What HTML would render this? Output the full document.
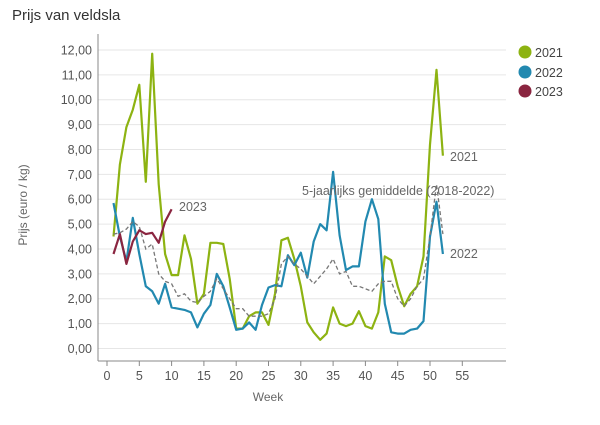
<!DOCTYPE html>
<html><head><meta charset="utf-8"><style>
body{margin:0;background:#fff;}
svg{font-family:"Liberation Sans",sans-serif;}
</style></head><body>
<svg id="s" width="600" height="420" xmlns="http://www.w3.org/2000/svg">
<text x="12" y="20" font-size="15" fill="#333">Prijs van veldsla</text>
<g id="grid"></g>
<line x1="98" y1="34" x2="98" y2="361" stroke="#888"/>
<line x1="98" y1="361" x2="506" y2="361" stroke="#888"/>
<text transform="translate(27,205) rotate(-90)" font-size="12" fill="#666" text-anchor="middle">Prijs (euro / kg)</text>
<text x="268" y="401" font-size="12" fill="#666" text-anchor="middle">Week</text>
<g id="lines"></g>
<text x="179" y="211" font-size="12.5" fill="#666">2023</text>
<text x="450" y="161" font-size="12.5" fill="#666">2021</text>
<text x="450" y="258" font-size="12.5" fill="#666">2022</text>
<text x="302" y="195" font-size="12.5" fill="#666">5-jaarlijks gemiddelde (2018-2022)</text>
<circle cx="525" cy="52" r="6.5" fill="#8db312"/><text x="535" y="57" font-size="12.5" fill="#444">2021</text>
<circle cx="525" cy="72" r="6.5" fill="#2289b0"/><text x="535" y="77" font-size="12.5" fill="#444">2022</text>
<circle cx="525" cy="91" r="6.5" fill="#8a2540"/><text x="535" y="96" font-size="12.5" fill="#444">2023</text>
</svg>
<script>
var X=function(w){return 107+w*6.46},Y=function(v){return 348.5-v*24.88};
var g='',ns='';
for(var i=0;i<=12;i++){var y=Y(i);g+='<line x1="98" x2="506" y1="'+y+'" y2="'+y+'" stroke="#e6e6e6"/>';
g+='<text x="92" y="'+(y+4.5)+'" font-size="12.5" fill="#555" text-anchor="end">'+i+'.00'.replace('.',',')+'</text>';}
for(var w=0;w<=55;w+=5){var x=X(w);g+='<line x1="'+x+'" x2="'+x+'" y1="361" y2="366" stroke="#888"/><text x="'+x+'" y="380" font-size="12.5" fill="#555" text-anchor="middle">'+w+'</text>';}
document.getElementById('grid').innerHTML=g;
var avg=[4.6,4.65,4.8,5.1,4.9,4.0,4.2,3.0,2.7,2.6,2.1,2.2,1.9,1.85,2.1,2.3,2.8,2.4,2.0,1.6,1.6,1.3,1.3,1.3,1.4,2.0,3.4,3.7,3.4,3.2,2.9,2.6,2.9,3.2,3.6,3.0,3.1,2.5,2.5,2.4,2.3,2.6,2.7,2.7,2.0,1.7,2.0,2.5,2.8,4.5,6.6,4.6];
var a21=[4.5,7.4,8.9,9.6,10.6,6.7,11.85,6.6,3.8,2.95,2.95,4.55,3.6,1.8,2.2,4.25,4.25,4.2,2.8,0.8,0.8,1.3,1.45,1.45,0.95,2.2,4.35,4.45,3.6,2.5,1.05,0.65,0.35,0.6,1.65,1.0,0.9,1.0,1.5,0.9,0.8,1.45,3.7,3.55,2.5,1.7,2.2,2.5,3.7,8.2,11.2,7.75];
var a22=[5.85,4.5,3.5,5.25,3.8,2.5,2.3,1.8,2.6,1.65,1.6,1.55,1.45,0.85,1.4,1.75,3.0,2.5,1.65,0.75,0.8,1.05,0.75,1.75,2.45,2.55,2.5,3.75,3.35,3.85,2.85,4.3,5.0,4.75,7.1,4.55,3.15,3.3,3.3,5.1,6.0,5.2,1.8,0.65,0.6,0.6,0.75,0.8,1.1,4.5,5.9,3.8];
var a23=[3.8,4.6,3.4,4.3,4.75,4.6,4.65,4.25,5.1,5.6];
function p(a){return a.map(function(v,i){return X(i+1).toFixed(1)+','+Y(v).toFixed(1)}).join(' ')}
var l='';
l+='<polyline points="'+p(a21)+'" fill="none" stroke="#8db312" stroke-width="2.2" stroke-linejoin="round"/>';
l+='<polyline points="'+p(a22)+'" fill="none" stroke="#2289b0" stroke-width="2.2" stroke-linejoin="round"/>';
l+='<polyline points="'+p(avg)+'" fill="none" stroke="#777" stroke-width="1.3" stroke-dasharray="4,2.5"/>';
l+='<polyline points="'+p(a23)+'" fill="none" stroke="#8a2540" stroke-width="2.2" stroke-linejoin="round"/>';
document.getElementById('lines').innerHTML=l;
</script>
</body></html>
